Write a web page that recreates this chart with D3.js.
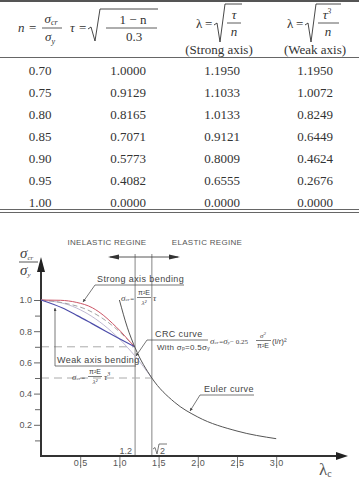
<!DOCTYPE html>
<html><head><meta charset="utf-8">
<script src="https://cdn.jsdelivr.net/npm/d3@7"></script>
<style>body{margin:0;background:#fff}svg{display:block}</style>
</head><body><svg id="c" width="359" height="478"></svg>
<script>
// ---- table data ----
const nValues = ["0.70","0.75","0.80","0.85","0.90","0.95","1.00"];
const tauValues = ["1.0000","0.9129","0.8165","0.7071","0.5773","0.4082","0.0000"];
const lambdaStrong = ["1.1950","1.1033","1.0133","0.9121","0.8009","0.6555","0.0000"];
const lambdaWeak = ["1.1950","1.0072","0.8249","0.6449","0.4624","0.2676","0.0000"];

// ---- chart data: [lambda, sigma_cr/sigma_y] ----
const strongCurve = [[0,1],[0.25,0.998],[0.45,0.985],[0.6555,0.95],[0.8009,0.90],[0.9121,0.85],[1.0133,0.80],[1.1033,0.75],[1.195,0.70]];
const weakCurve = [[0,1],[0.2676,0.95],[0.4624,0.90],[0.6449,0.85],[0.8249,0.80],[1.0072,0.75],[1.195,0.70]];
const dashedCurve = [[0,1],[0.3,0.98],[0.6,0.935],[0.9,0.84],[1.195,0.70]];
const crcCurve = [[0,1],[0.4,0.96],[0.8,0.84],[1.0,0.75],[1.2,0.64],[1.414,0.5]];
const eulerCurve = [[1.0,1.0],[1.1,0.826],[1.2,0.694],[1.414,0.5],[1.7,0.346],[2.0,0.25],[2.5,0.16],[3.0,0.111]];
const yMajorTicks = [0.2,0.4,0.6,0.8,1.0];
const yMinorTicks = [0.1,0.3,0.5,0.7,0.9];
const xTicks = [0.5,1.0,1.5,2.0,2.5,3.0];

const svg = d3.select("#c");
const serif = "'Liberation Serif','DejaVu Serif',serif";
const sans = "'Liberation Sans','DejaVu Sans',sans-serif";

// ================= TABLE =================
const T = svg.append("g");
T.append("line").attr("x1",0).attr("x2",359).attr("y1",1).attr("y2",1).attr("stroke","#555").attr("stroke-width",2);
T.append("line").attr("x1",0).attr("x2",359).attr("y1",57.5).attr("y2",57.5).attr("stroke","#666").attr("stroke-width",1);
T.append("line").attr("x1",0).attr("x2",359).attr("y1",209.5).attr("y2",209.5).attr("stroke","#666").attr("stroke-width",1);
T.append("line").attr("x1",0).attr("x2",359).attr("y1",212.5).attr("y2",212.5).attr("stroke","#666").attr("stroke-width",1);

function txt(g, x, y, s, opt={}) {
  const t = g.append("text").attr("x",x).attr("y",y).text(s)
    .attr("font-family", opt.family||serif).attr("font-size", opt.size||13)
    .attr("font-style", opt.italic?"italic":"normal")
    .attr("text-anchor", opt.anchor||"start").attr("fill", opt.fill||"#333");
  if (opt.ls) t.attr("letter-spacing", opt.ls);
  return t;
}
function hline(g,x1,x2,y,c="#333",w=0.8){g.append("line").attr("x1",x1).attr("x2",x2).attr("y1",y).attr("y2",y).attr("stroke",c).attr("stroke-width",w);}

// header col1: n = σcr/σy
txt(T,18,32,"n",{italic:true});
txt(T,29,32,"=");
let t1 = txt(T,51,23,"σ",{italic:true,anchor:"middle"}); t1.append("tspan").attr("font-size",8).attr("dy",2).text("cr");
hline(T,42,62,28);
let t2 = txt(T,50,41,"σ",{italic:true,anchor:"middle"}); t2.append("tspan").attr("font-size",8).attr("dy",3).text("y");
// col2: τ = sqrt((1-n)/0.3)
txt(T,70,32,"τ",{italic:true});
txt(T,79,32,"=");
T.append("path").attr("d","M88,29 L91,27 L95,41 L100,9 L158,9").attr("fill","none").attr("stroke","#333").attr("stroke-width",0.9);
txt(T,133,24,"1  −  n",{anchor:"middle"});
hline(T,106,157,28);
txt(T,134,41,"0.3",{anchor:"middle"});
// col3: λ = sqrt(τ/n)
txt(T,196,28,"λ",{});
txt(T,205,28,"=");
T.append("path").attr("d","M214,25 L217,23 L220,42 L225,4 L242,4").attr("fill","none").attr("stroke","#333").attr("stroke-width",0.9);
txt(T,234,19,"τ",{italic:true,anchor:"middle"});
hline(T,227,241,23);
txt(T,234,36,"n",{italic:true,anchor:"middle"});
txt(T,219,54,"(Strong axis)",{anchor:"middle"});
// col4: λ = sqrt(τ³/n)
txt(T,287,28,"λ");
txt(T,296,28,"=");
T.append("path").attr("d","M305,25 L308,23 L311,42 L316,4 L341,4").attr("fill","none").attr("stroke","#333").attr("stroke-width",0.9);
let t3 = txt(T,327,19,"τ",{italic:true,anchor:"middle"}); t3.append("tspan").attr("font-size",8).attr("dy",-5).text("3");
hline(T,318,339,23);
txt(T,328,36,"n",{italic:true,anchor:"middle"});
txt(T,315,54,"(Weak axis)",{anchor:"middle"});

// rows
const colX = [40,128,222,315];
const cols = [nValues,tauValues,lambdaStrong,lambdaWeak];
const rowY = d3.scaleLinear().domain([0,6]).range([75,206.5]);
cols.forEach((arr,ci)=>{
  T.selectAll(null).data(arr).enter().append("text")
    .attr("x",colX[ci]).attr("y",(d,i)=>rowY(i)).text(d=>d)
    .attr("font-family",serif).attr("font-size",13).attr("text-anchor","middle").attr("fill","#333");
});

// ================= CHART =================
const x = d3.scaleLinear().domain([0,3]).range([41,276.2]);
const y = d3.scaleLinear().domain([0,1]).range([456,300]);
const C = svg.append("g");
const lab = "#444";

const defs = svg.append("defs");
defs.append("marker").attr("id","ahs").attr("viewBox","0 0 10 10").attr("refX",10).attr("refY",5)
  .attr("markerWidth",5).attr("markerHeight",3).attr("markerUnits","userSpaceOnUse").attr("orient","auto")
  .append("path").attr("d","M0,0 L10,5 L0,10 Z").attr("fill","#444");

// vertical reference lines at 1.2 and sqrt2
[1.2, Math.SQRT2].forEach(v=>{
  C.append("line").attr("x1",x(v)).attr("x2",x(v)).attr("y1",y(0)).attr("y2",254).attr("stroke","#777").attr("stroke-width",0.9);
});
// dashed reference lines
C.append("line").attr("x1",x(0)).attr("x2",x(1.2)).attr("y1",y(0.7)).attr("y2",y(0.7)).attr("stroke","#aaa").attr("stroke-width",1).attr("stroke-dasharray","8,5");
C.append("line").attr("x1",x(0)).attr("x2",x(Math.SQRT2)).attr("y1",y(0.5)).attr("y2",y(0.5)).attr("stroke","#aaa").attr("stroke-width",1).attr("stroke-dasharray","8,5");

// y axis ticks
const yAx = C.append("g").attr("transform",`translate(${x(0)},0)`)
  .call(d3.axisLeft(y).tickValues(yMajorTicks).tickFormat(d3.format(".1f")).tickSize(7).tickPadding(2));
const yAx2 = C.append("g").attr("transform",`translate(${x(0)},0)`)
  .call(d3.axisLeft(y).tickValues(yMinorTicks).tickFormat("").tickSize(6));
[yAx,yAx2].forEach(g=>{
  g.select(".domain").remove();
  g.selectAll("line").attr("stroke","#555").attr("stroke-width",0.9);
  g.selectAll("text").attr("font-family",sans).attr("font-size",9).attr("fill","#555");
});
// x axis ticks
const xAx = C.append("g").attr("transform",`translate(0,${y(0)})`)
  .call(d3.axisBottom(x).tickValues(xTicks).tickFormat(d3.format(".1f")).tickSize(12).tickPadding(-8));
xAx.select(".domain").remove();
xAx.selectAll("line").attr("stroke","#666").attr("stroke-width",0.9);
xAx.selectAll("text").attr("font-family",sans).attr("font-size",9).attr("fill","#555").attr("letter-spacing",0.5);

// axes lines with arrows
C.append("line").attr("x1",x(0)).attr("x2",x(0)).attr("y1",y(0)+1).attr("y2",272).attr("stroke","#333").attr("stroke-width",2);
C.append("path").attr("d",`M${x(0)-4},272 L${x(0)},257 L${x(0)+4},272 Z`).attr("fill","#222");
C.append("line").attr("x1",x(0)).attr("x2",336).attr("y1",y(0)).attr("y2",y(0)).attr("stroke","#333").attr("stroke-width",2);
C.append("path").attr("d",`M336,${y(0)-4} L348,${y(0)} L336,${y(0)+4} Z`).attr("fill","#222");

// curves
const line = d3.line().x(d=>x(d[0])).y(d=>y(d[1])).curve(d3.curveMonotoneX);
C.append("path").datum(crcCurve).attr("d",line).attr("fill","none").attr("stroke","#b8b0cc").attr("stroke-width",0.9);
C.append("path").datum(dashedCurve).attr("d",line).attr("fill","none").attr("stroke","#999").attr("stroke-width",0.9).attr("stroke-dasharray","5,3");
C.append("path").datum(strongCurve).attr("d",line).attr("fill","none").attr("stroke","#cc5566").attr("stroke-width",1);
C.append("path").datum(weakCurve).attr("d",line).attr("fill","none").attr("stroke","#4d4daa").attr("stroke-width",1.2);
C.append("path").datum(eulerCurve).attr("d",line).attr("fill","none").attr("stroke","#555").attr("stroke-width",1);

// region labels and arrows
txt(C,107,245,"INELASTIC REGINE",{family:sans,size:8,anchor:"middle",fill:"#555",ls:0.3});
txt(C,207,245,"ELASTIC REGINE",{family:sans,size:8,anchor:"middle",fill:"#555",ls:0.3});
C.append("line").attr("x1",110).attr("x2",178).attr("y1",257).attr("y2",257).attr("stroke","#444").attr("stroke-width",0.9);
C.append("path").attr("d","M108,257 L119,254.5 L119,259.5 Z").attr("fill","#333");
C.append("path").attr("d","M180,257 L169,254.5 L169,259.5 Z").attr("fill","#333");

// y axis label
let yl1 = txt(C,20,258,"σ",{italic:true,size:15,fill:"#444"}); yl1.append("tspan").attr("font-size",7).attr("dy",2).text("cr");
hline(C,19,38,262,"#444",0.9);
let yl2 = txt(C,20,275,"σ",{italic:true,size:15,fill:"#444"}); yl2.append("tspan").attr("font-size",7).attr("dy",2).text("y");

// x axis label
let xl = txt(C,319,475,"λ",{family:serif,size:17,fill:"#555"}); xl.append("tspan").attr("font-size",10).attr("dy",2).text("c");

// 1.2 and sqrt2 labels
txt(C,132,454,"1.2",{family:sans,size:9,anchor:"end",fill:"#555"});
C.append("path").attr("d","M153,449 L155,447.5 L157,454 L159,444 L167,444").attr("fill","none").attr("stroke","#555").attr("stroke-width",0.8);
txt(C,160,454,"2",{family:sans,size:9,fill:"#555"});

// Strong axis bending annotation
txt(C,97,282,"Strong axis bending",{family:sans,size:9,fill:lab,ls:0.4});
hline(C,95,184,285,"#555",0.8);
C.append("line").attr("x1",95).attr("y1",285).attr("x2",83).attr("y2",302).attr("stroke","#555").attr("stroke-width",0.8).attr("marker-end","url(#ahs)");
let sf = txt(C,121,301,"σ",{italic:true,size:9,fill:lab,family:serif}); sf.append("tspan").attr("font-size",5).text("cr"); sf.append("tspan").attr("font-size",7).text("=");
txt(C,144,295,"π²E",{size:7,anchor:"middle",fill:lab,family:sans});
hline(C,137,151,297.5,"#444",0.7);
txt(C,144,305,"λ²",{size:7,anchor:"middle",fill:lab,family:serif,italic:true});
txt(C,153,301,"τ",{size:9,fill:lab,family:serif,italic:true});

// Weak axis bending annotation
C.append("line").attr("x1",55).attr("y1",366).attr("x2",55).attr("y2",308).attr("stroke","#555").attr("stroke-width",0.8).attr("marker-end","url(#ahs)");
hline(C,55,136,366,"#555",0.8);
txt(C,57,363,"Weak axis bending",{family:sans,size:9,fill:lab,ls:0.4});
let wf = txt(C,72,380,"σ",{italic:true,size:9,fill:lab,family:serif}); wf.append("tspan").attr("font-size",5).text("cr"); wf.append("tspan").attr("font-size",7).text("=");
txt(C,95,374,"π²E",{size:7,anchor:"middle",fill:lab,family:sans});
hline(C,88,102,376.5,"#444",0.7);
txt(C,95,384,"λ²",{size:7,anchor:"middle",fill:lab,family:serif,italic:true});
let wt = txt(C,104,380,"τ",{size:9,fill:lab,family:serif,italic:true}); wt.append("tspan").attr("font-size",6).attr("dy",-4).text("3");

// CRC annotation
txt(C,155,337,"CRC curve",{family:sans,size:9,fill:lab,ls:0.4});
hline(C,147,208,340,"#555",0.8);
C.append("line").attr("x1",147).attr("y1",340).attr("x2",136).attr("y2",356).attr("stroke","#555").attr("stroke-width",0.8).attr("marker-end","url(#ahs)");
let wc = txt(C,157,350,"With σ",{family:sans,size:8,fill:lab,ls:0.3}); wc.append("tspan").attr("font-size",5).text("p"); wc.append("tspan").text("=0.5σ"); wc.append("tspan").attr("font-size",5).text("y");
let cf = txt(C,210,344,"σ",{italic:true,size:9,fill:lab,family:serif}); cf.append("tspan").attr("font-size",5).text("cr"); cf.append("tspan").attr("font-size",7).text("=");
cf.append("tspan").attr("font-size",9).text("σ"); cf.append("tspan").attr("font-size",5).text("y"); cf.append("tspan").attr("font-size",7).attr("font-style","normal").text("− 0.25");
txt(C,263,338,"σ",{size:7,anchor:"middle",fill:lab,family:serif,italic:true}).append("tspan").attr("font-size",5).attr("dy",-3).text("2");
hline(C,256,271,340.5,"#444",0.7);
txt(C,263,348,"π²E",{size:7,anchor:"middle",fill:lab,family:sans});
txt(C,272,344,"(l/r)²",{size:8,fill:lab,family:sans});

// Euler annotation
txt(C,204,392,"Euler curve",{family:sans,size:9,fill:lab,ls:0.4});
hline(C,200,254,395,"#555",0.8);
C.append("line").attr("x1",200).attr("y1",395).attr("x2",190).attr("y2",411).attr("stroke","#555").attr("stroke-width",0.8).attr("marker-end","url(#ahs)");
</script></body></html>
